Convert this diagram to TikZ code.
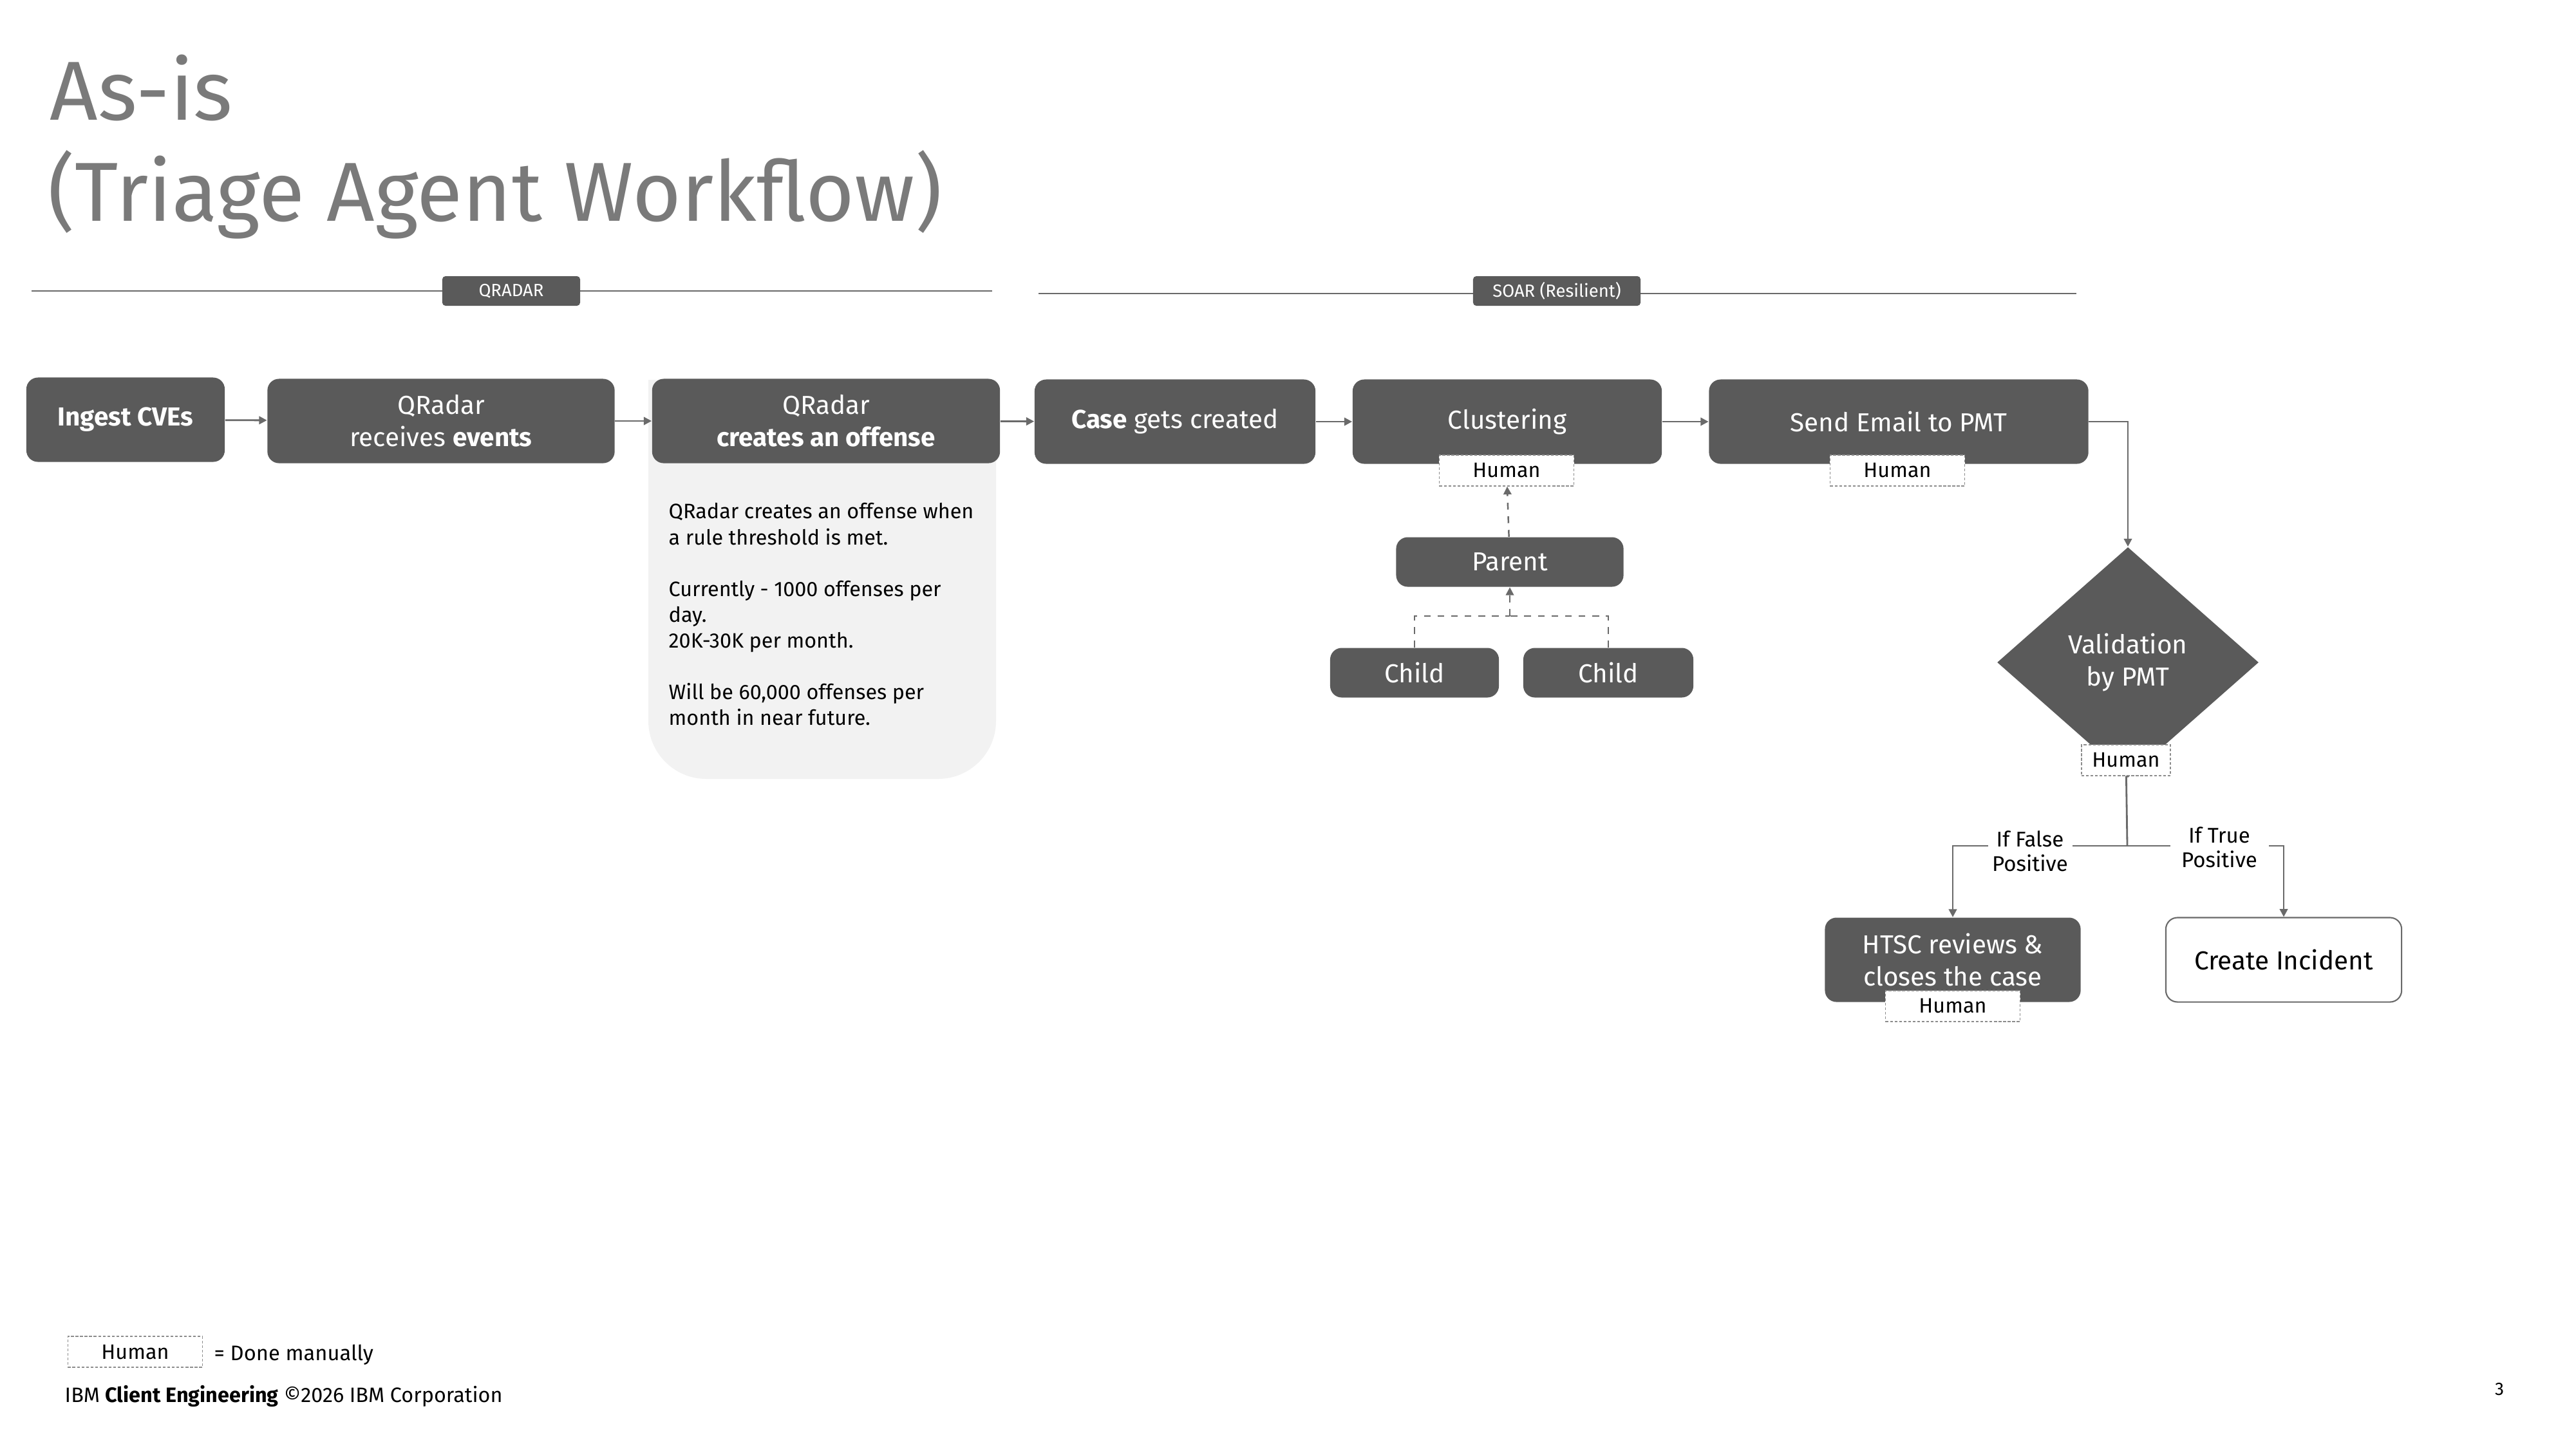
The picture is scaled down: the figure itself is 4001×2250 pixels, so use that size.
\documentclass[tikz,border=0pt]{standalone}
\usepackage{fontspec}
\setmainfont{Fira Sans}
\newfontfamily\titlefont{Fira Sans}
\usetikzlibrary{positioning,shapes.geometric,arrows.meta,calc}
\definecolor{boxgray}{HTML}{5A5A5A}
\definecolor{linegray}{HTML}{6A6A6A}
\definecolor{panelgray}{HTML}{F2F2F2}
\definecolor{tagline}{HTML}{8D8D8D}
\definecolor{titlegray}{HTML}{7A7A7A}

\begin{document}
\begin{tikzpicture}[x=0.01cm, y=-0.01cm,
    stepbox/.style={fill=boxgray, text=white, rounded corners=0.18cm, align=center, inner sep=0pt,
        minimum height=1.31cm, font=\fontsize{11.5}{14.2}\selectfont},
    smallbox/.style={stepbox, minimum height=0.77cm},
    humantag/.style={draw=tagline, fill=white, line width=0.4pt, dash pattern=on 1.2pt off 0.8pt,
        minimum width=2.09cm, minimum height=0.48cm, inner sep=0pt, font=\fontsize{9.2}{10}\selectfont},
    sectag/.style={fill=boxgray, text=white, rounded corners=0.05cm, minimum height=0.46cm, inner sep=0pt,
        font=\fontsize{7.8}{9}\selectfont},
    secline/.style={draw=linegray, line width=0.5pt},
    flow/.style={draw=linegray, line width=0.8pt, -{Triangle[length=3.5pt,width=3.5pt]}},
    link/.style={draw=linegray, line width=0.8pt},
    dashflow/.style={draw=linegray, line width=0.7pt, dash pattern=on 3pt off 3pt, -{Triangle[length=3.5pt,width=3.5pt]}},
    branchlabel/.style={fill=white, align=center, inner sep=1pt, font=\fontsize{9.4}{10.8}\selectfont}]
    \useasboundingbox (0,0) rectangle (4001,2250);

    \node[text=titlegray, font=\titlefont\fontsize{37}{44}\selectfont, anchor=base west, inner sep=0pt] (title1) at (77,186) {As-is};
    \node[text=titlegray, font=\titlefont\fontsize{37}{44}\selectfont, anchor=base west, inner sep=0pt] (title2) at (74,343) {(Triage Agent Workflow)};

    \coordinate (qrl) at (49,452);
    \coordinate (qrr) at (1541,452);
    \coordinate (sol) at (1613,456);
    \coordinate (sor) at (3225,456);
    \draw[secline] (qrl) -- (qrr);
    \draw[secline] (sol) -- (sor);
    \node[sectag, minimum width=2.14cm] (qradar) at (794,452) {QRADAR};
    \node[sectag, minimum width=2.60cm] (soar) at (2418,452) {SOAR (Resilient)};

    \fill[panelgray] (1007,590) [rounded corners=0.9cm] -- (1007,1210) -- (1547,1210) [sharp corners] -- (1547,590) -- cycle;
    \node[anchor=north west, align=left, inner sep=0pt, font=\fontsize{9.2}{11.4}\selectfont] (note) at (1038,781)
        {QRadar creates an offense when\\a rule threshold is met.\\[11.4pt]Currently - 1000 offenses per\\day.\\20K-30K per month.\\[11.4pt]Will be 60,000 offenses per\\month in near future.};

    \node[stepbox, minimum width=3.08cm] (ingest) at (195,652) {\textbf{Ingest CVEs}};
    \node[stepbox, minimum width=5.39cm] (events) at (685,654) {QRadar\\receives \textbf{events}};
    \node[stepbox, minimum width=5.40cm] (offense) at (1283,654) {QRadar\\\textbf{creates an offense}};
    \node[stepbox, minimum width=4.36cm] (case) at (1825,655) {\textbf{Case} gets created};
    \node[stepbox, minimum width=4.80cm] (cluster) at (2341,655) {Clustering};
    \node[stepbox, minimum width=5.89cm] (email) at (2949,655) {Send Email to PMT};

    \draw[flow] (ingest) -- (events);
    \draw[flow] (events) -- (offense);
    \draw[flow] (offense) -- (case);
    \draw[flow] (case) -- (cluster);
    \draw[flow] (cluster) -- (email);

    \node[humantag] (clusterhuman) at (2340,731) {Human};
    \node[humantag] (emailhuman) at (2947,731) {Human};

    \node[smallbox, minimum width=3.53cm] (parent) at (2345,873) {Parent};
    \node[smallbox, minimum width=2.62cm] (child1) at (2197,1045) {Child};
    \node[smallbox, minimum width=2.64cm] (child2) at (2498,1045) {Child};
    \coordinate (join) at (2345,957);
    \draw[dashflow] (parent) -- (clusterhuman);
    \draw[link, dash pattern=on 3pt off 3pt] (child1) |- (join);
    \draw[link, dash pattern=on 3pt off 3pt] (child2) |- (join);
    \draw[dashflow] (join) -- (parent);

    \node[diamond, fill=boxgray, text=white, align=center, inner sep=0pt, aspect=1.13,
        minimum width=4.06cm, minimum height=3.58cm, font=\fontsize{11.5}{14}\selectfont] (valid) at (3305,1029) {Validation\\by PMT};
    \draw[flow] (email) -| (valid);
    \node[humantag, minimum width=1.38cm] (validhuman) at (3302,1181) {Human};

    \node[stepbox, minimum width=3.97cm] (htsc) at (3033,1491) {HTSC reviews \&\\closes the case};
    \node[stepbox, fill=white, draw=linegray, line width=0.6pt, text=black, minimum width=3.66cm] (incident) at (3547,1491) {Create Incident};
    \node[humantag] (htschuman) at (3033,1563) {Human};

    \coordinate (split) at (3304,1314);
    \draw[link] (validhuman) -- (split);
    \draw[flow] (split) -| (htsc);
    \draw[flow] (split) -| (incident);
    \node[branchlabel, minimum width=1.31cm] (falselbl) at (3153,1322) {If False\\Positive};
    \node[branchlabel, minimum width=1.53cm] (truelbl) at (3447,1316) {If True\\Positive};

    \node[humantag] (legend) at (210,2100) {Human};
    \node[anchor=base west, inner sep=0pt, font=\fontsize{9.3}{10}\selectfont] (legendtext) at (332,2113) {= Done manually};
    \node[anchor=base west, inner sep=0pt, font=\fontsize{9.2}{10}\selectfont] (footer) at (100,2178) {IBM \textbf{Client Engineering} ©2026 IBM Corporation};
    \node[inner sep=0pt, font=\fontsize{8}{10}\selectfont] (page) at (3882,2158) {3};
\end{tikzpicture}
\end{document}
